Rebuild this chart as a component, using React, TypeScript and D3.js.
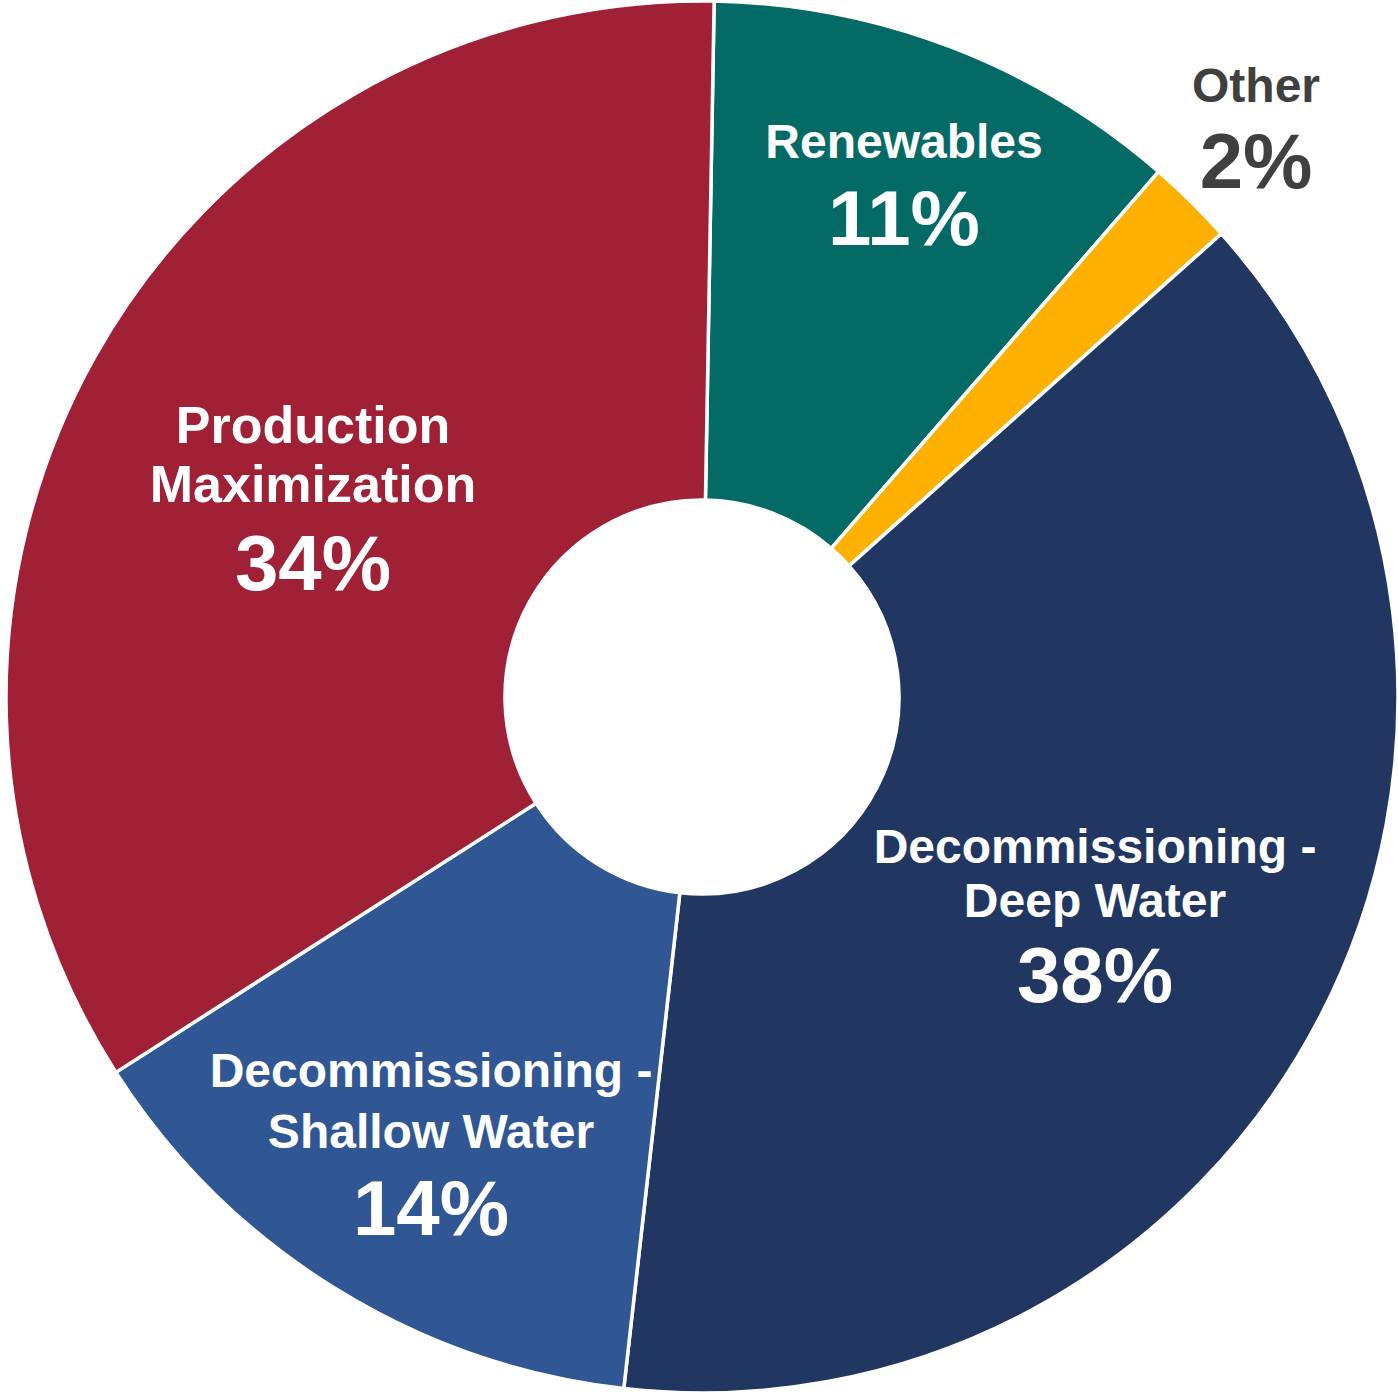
import React from "react";
import * as d3 from "d3";

const categories = ["Renewables", "Other", "Decommissioning - Deep Water", "Decommissioning - Shallow Water", "Production Maximization"];
const values = [11, 2, 38, 14, 34];
const colors = ["#046A66", "#FDB000", "#213761", "#305694", "#A02036"];
const nameLines = [["Renewables"], ["Other"], ["Decommissioning -", "Deep Water"], ["Decommissioning -", "Shallow Water"], ["Production", "Maximization"]];
const percentLabels = ["11%", "2%", "38%", "14%", "34%"];

// label layout: center x, baselines of name lines, baseline of percent, name font size
const labelLayout = [
  { x: 904, names: [158], pct: 245, color: "#ffffff", nameSize: 48 },
  { x: 1256, names: [102], pct: 188, color: "#404040", nameSize: 48 },
  { x: 1095, names: [863, 917], pct: 1002, color: "#ffffff", nameSize: 48 },
  { x: 431, names: [1087, 1148], pct: 1235, color: "#ffffff", nameSize: 48 },
  { x: 313, names: [443, 502], pct: 590, color: "#ffffff", nameSize: 52 },
];

const W = 1398;
const H = 1396;
const cx = 702;
const cy = 697;
const outerR = 696;
const innerR = 197;

export default function App() {
  const startDeg = 1;
  const pie = d3
    .pie<number>()
    .sort(null)
    .value((d) => d)
    .startAngle((startDeg * Math.PI) / 180)
    .endAngle(((startDeg + 360) * Math.PI) / 180);
  const arcs = pie(values);
  const arcGen = d3.arc<d3.PieArcDatum<number>>().innerRadius(innerR).outerRadius(outerR);

  return (
    <svg
      width={W}
      height={H}
      style={{ position: "absolute", left: 0, top: 0, background: "#ffffff" }}
      fontFamily="'Liberation Sans', Arial, sans-serif"
      fontWeight="bold"
    >
      <g transform={`translate(${cx},${cy})`}>
        {arcs.map((a, i) => (
          <path key={categories[i]} d={arcGen(a) || ""} fill={colors[i]} stroke="#ffffff" strokeWidth={3.5} strokeLinejoin="miter" />
        ))}
      </g>
      {labelLayout.map((l, i) => (
        <g key={"lbl" + i} fill={l.color} textAnchor="middle">
          {nameLines[i].map((t, j) => (
            <text key={j} x={l.x} y={l.names[j]} fontSize={l.nameSize}>
              {t}
            </text>
          ))}
          <text x={l.x} y={l.pct} fontSize={78}>
            {percentLabels[i]}
          </text>
        </g>
      ))}
    </svg>
  );
}
